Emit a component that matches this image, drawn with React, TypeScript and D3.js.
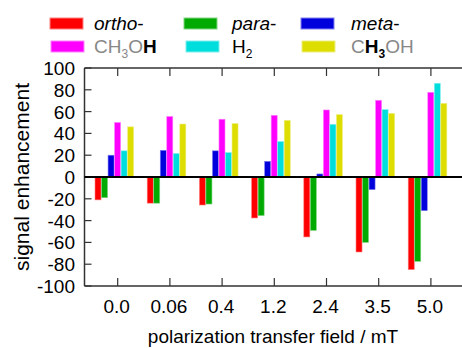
import React from "react";
import * as d3 from "d3";

const categories = ["0.0", "0.06", "0.4", "1.2", "2.4", "3.5", "5.0"];
const ortho = [-21, -24, -25.7, -37.6, -55, -68.8, -85];
const para = [-19, -24, -24.8, -35.4, -49, -60, -77.4];
const meta = [20, 24.5, 24, 14.4, 2.8, -11.6, -30.9];
const ch3ohH = [50, 55.5, 53, 56.6, 61.5, 70.4, 77.7];
const h2 = [24, 21.5, 22.4, 32.5, 48.3, 61.8, 86];
const ch3Oh = [46, 48.6, 49, 52, 57.2, 58.4, 67.6];
const yTicks = [100, 80, 60, 40, 20, 0, -20, -40, -60, -80, -100];

const seriesList = [
  { values: ortho, fill: "#ff0000", stroke: "#ff8080" },
  { values: para, fill: "#00aa00", stroke: "#80d480" },
  { values: meta, fill: "#0000dd", stroke: "#8080ee" },
  { values: ch3ohH, fill: "#ff00ff", stroke: "#ff80ff" },
  { values: h2, fill: "#00dddd", stroke: "#80eeee" },
  { values: ch3Oh, fill: "#dddd00", stroke: "#eeee80" },
];

const FONT = "'Liberation Sans', Arial, sans-serif";
const GRAY = "#888888";

export default function App() {
  const W = 462, H = 348;
  const left = 84.5, top = 68, bottom = 286, right = 462;
  const y = d3.scaleLinear().domain([-100, 100]).range([bottom, top]);
  const x = d3.scaleLinear().domain([0, categories.length - 1]).range([117.7, 117.7 + 52.2 * 6]);
  const bw = 6.525;
  const offset = -22.7;
  const fs = 19;

  const legendItems: { sx: number; sy: number; tx: number; color: string; stroke: string; label: React.ReactNode }[] = [
    { sx: 50, sy: 18, tx: 94, color: "#ff0000", stroke: "#ff8080", label: (<><tspan fontStyle="italic">ortho</tspan>-</>) },
    { sx: 184, sy: 18, tx: 232, color: "#00aa00", stroke: "#80d480", label: (<><tspan fontStyle="italic">para</tspan>-</>) },
    { sx: 301, sy: 18, tx: 351, color: "#0000dd", stroke: "#8080ee", label: (<><tspan fontStyle="italic">meta</tspan>-</>) },
    { sx: 51, sy: 41, tx: 94, color: "#ff00ff", stroke: "#ff80ff", label: (
      <>
        <tspan fill={GRAY}>CH</tspan>
        <tspan fill={GRAY} fontSize={12} dy={5}>3</tspan>
        <tspan fill={GRAY} dy={-5}>O</tspan>
        <tspan fontWeight="bold">H</tspan>
      </>
    ) },
    { sx: 186, sy: 41, tx: 232, color: "#00dddd", stroke: "#80eeee", label: (
      <>
        <tspan>H</tspan>
        <tspan fontSize={12} dy={5}>2</tspan>
      </>
    ) },
    { sx: 302, sy: 41, tx: 351, color: "#dddd00", stroke: "#eeee80", label: (
      <>
        <tspan fill={GRAY}>C</tspan>
        <tspan fontWeight="bold">H</tspan>
        <tspan fontWeight="bold" fontSize={12} dy={5}>3</tspan>
        <tspan fill={GRAY} dy={-5}>OH</tspan>
      </>
    ) },
  ];

  return (
    <svg width={W} height={H} style={{ position: "absolute", left: 0, top: 0, background: "#fff" }} fontFamily={FONT}>
      <rect x={0} y={0} width={W} height={H} fill="#fff" />
      {legendItems.map((d, i) => (
        <g key={i}>
          <rect x={d.sx} y={d.sy} width={33} height={11} fill={d.color} stroke={d.stroke} strokeWidth={1} />
          <text x={d.tx} y={d.sy + 12} fontSize={fs} fill="#000">{d.label}</text>
        </g>
      ))}
      {seriesList.map((s, j) => (
        <g key={j}>
          {s.values.map((v, i) => {
            const x0 = x(i) + offset + j * bw;
            const y0 = Math.min(y(v), y(0));
            const h = Math.abs(y(v) - y(0));
            return <rect key={i} x={x0} y={y0} width={bw - 0.5} height={h} fill={s.fill} stroke={s.stroke} strokeWidth={0.6} />;
          })}
        </g>
      ))}
      <line x1={left} x2={right} y1={top} y2={top} stroke="#333" strokeWidth={1.5} />
      <line x1={left} x2={right} y1={bottom} y2={bottom} stroke="#333" strokeWidth={1.5} />
      <line x1={left} x2={left} y1={top} y2={bottom} stroke="#333" strokeWidth={1.5} />
      {yTicks.map((t) => (
        <g key={t}>
          <line x1={left} x2={left + 7} y1={y(t)} y2={y(t)} stroke="#333" strokeWidth={1.2} />
          <text x={75} y={y(t) + 7} fontSize={fs} textAnchor="end" fill="#000">{t}</text>
        </g>
      ))}
      {categories.map((c, i) => (
        <g key={c}>
          <line x1={x(i)} x2={x(i)} y1={top} y2={top + 8} stroke="#333" strokeWidth={1.2} />
          <line x1={x(i)} x2={x(i)} y1={bottom} y2={bottom - 8} stroke="#333" strokeWidth={1.2} />
          <text x={x(i) - 1} y={313} fontSize={fs} textAnchor="middle" fill="#000">{c}</text>
        </g>
      ))}
      <line x1={left} x2={right} y1={y(0)} y2={y(0)} stroke="#000" strokeWidth={2.2} />
      <text x={273} y={343} fontSize={fs} textAnchor="middle" fill="#000">polarization transfer field / mT</text>
      <text transform={`translate(29, ${y(0)}) rotate(-90)`} fontSize={21} textAnchor="middle" fill="#000">signal enhancement</text>
    </svg>
  );
}
